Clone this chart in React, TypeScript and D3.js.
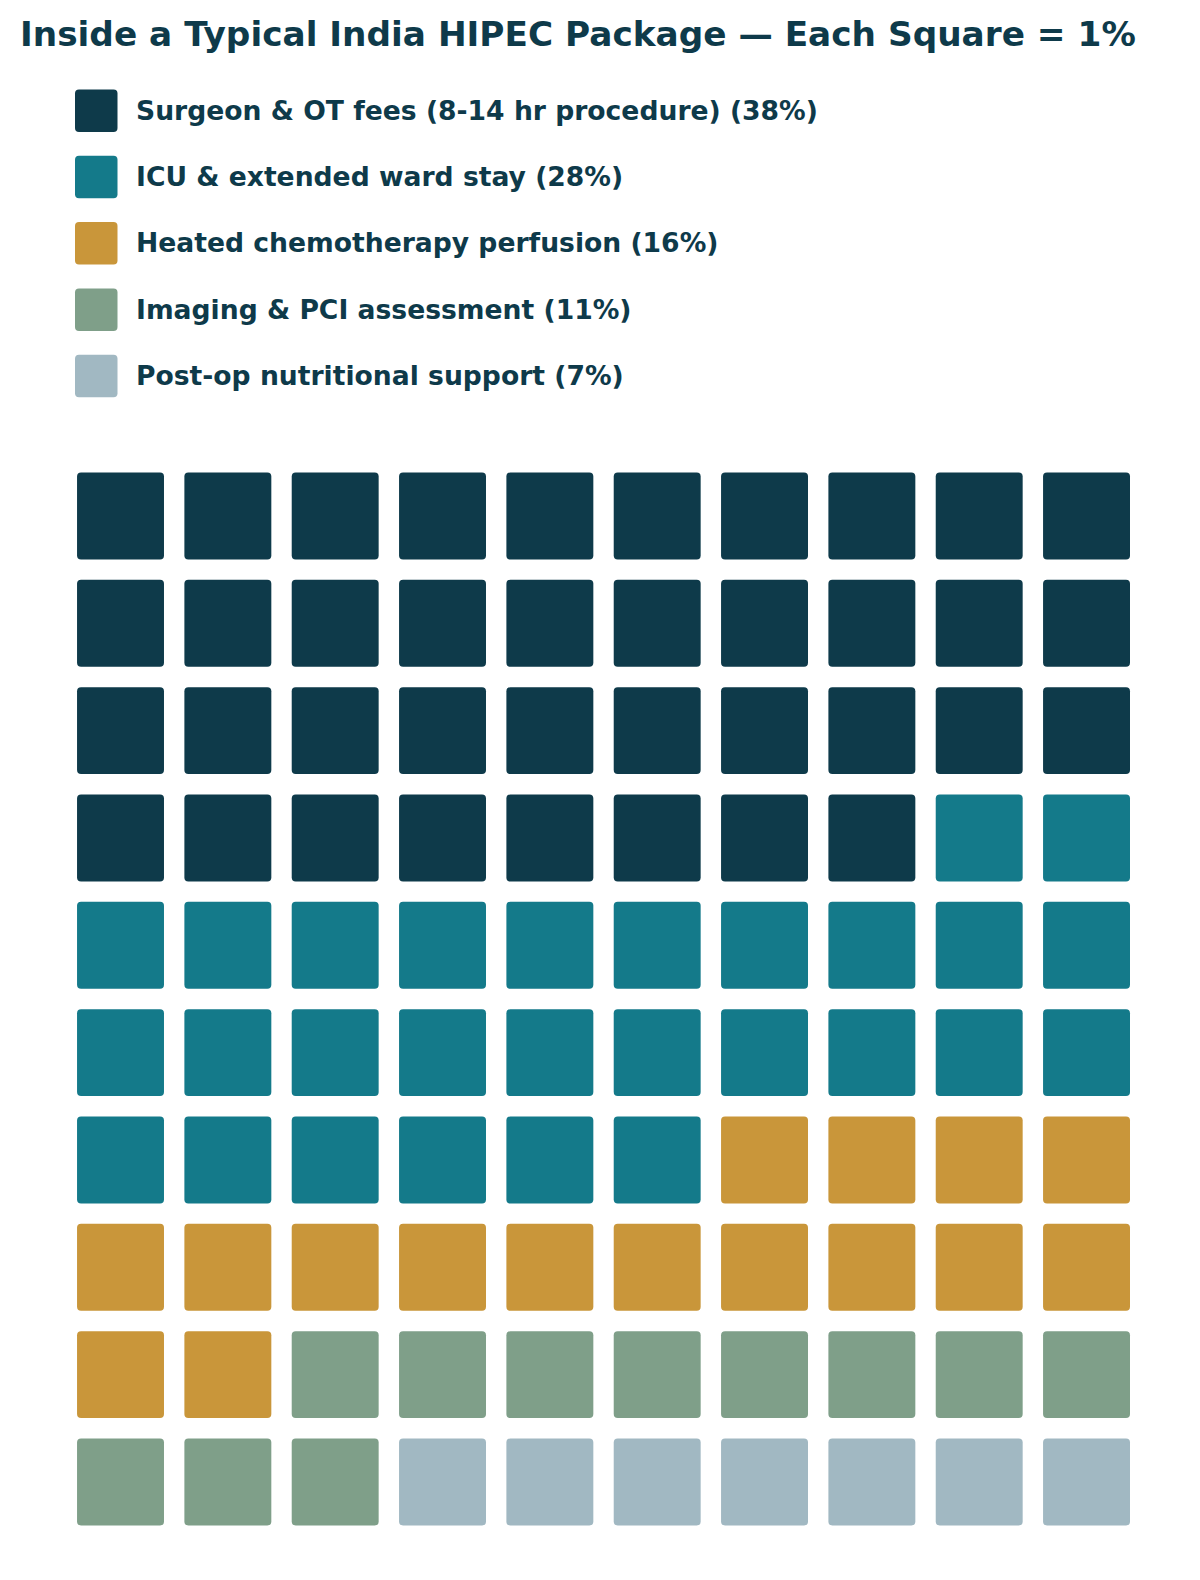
import React from "react";
import * as d3 from "d3";

const categories = [
  "Surgeon & OT fees (8-14 hr procedure)",
  "ICU & extended ward stay",
  "Heated chemotherapy perfusion",
  "Imaging & PCI assessment",
  "Post-op nutritional support",
];
const values = [38, 28, 16, 11, 7];
const colors = ["#0e3a4a", "#147a8a", "#c9963a", "#7f9f89", "#a1b8c2"];
const title = "Inside a Typical India HIPEC Package — Each Square = 1%";

const W = 1200;
const H = 1580;
const textColor = "#0e3a4a";
const font = "'DejaVu Sans', sans-serif";

export default function App() {
  const cells: { i: number; cat: number }[] = [];
  let k = 0;
  values.forEach((v, ci) => {
    for (let j = 0; j < v; j++) cells.push({ i: k++, cat: ci });
  });
  const cols = d3.range(10);
  const x = d3.scaleBand<number>().domain(cols).range([66.85, 1140.2]).paddingInner(0.19).paddingOuter(0.095);
  const y = d3.scaleBand<number>().domain(cols).range([462.3, 1535.6]).paddingInner(0.19).paddingOuter(0.095);
  const ly = d3.scalePoint<number>().domain(d3.range(categories.length)).range([110.8, 376]);

  return (
    <svg width={W} height={H} style={{ position: "absolute", left: 0, top: 0 }} fontFamily={font}>
      <rect width={W} height={H} fill="#ffffff" />
      <text x={20} y={46} fontSize={34.3} fontWeight="bold" fill={textColor}>
        {title}
      </text>
      {categories.map((c, i) => (
        <g key={c}>
          <rect x={75} y={ly(i)! - 21.3} width={42.5} height={42.5} rx={4} fill={colors[i]} />
          <text x={136} y={ly(i)! + 8.8} fontSize={26.6} fontWeight="bold" fill={textColor}>
            {`${c} (${values[i]}%)`}
          </text>
        </g>
      ))}
      {cells.map((d) => (
        <rect
          key={d.i}
          x={x(d.i % 10)}
          y={y(Math.floor(d.i / 10))}
          width={x.bandwidth()}
          height={y.bandwidth()}
          rx={4}
          fill={colors[d.cat]}
        />
      ))}
    </svg>
  );
}
